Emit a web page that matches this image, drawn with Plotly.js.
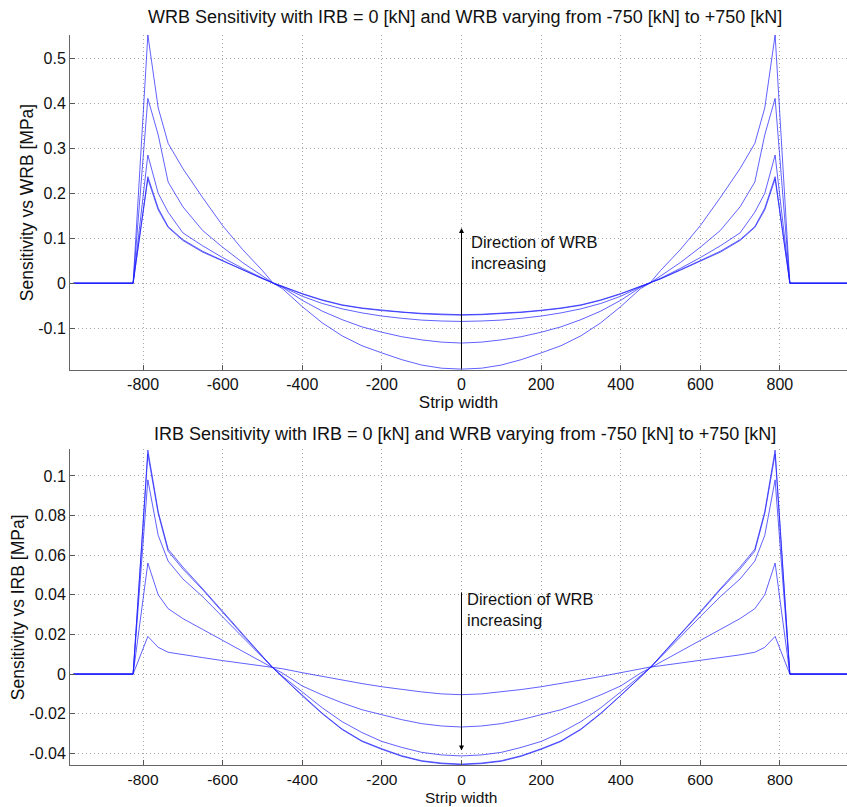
<!DOCTYPE html>
<html><head><meta charset="utf-8">
<script src="https://cdn.plot.ly/plotly-3.0.1.min.js"></script>
<style>html,body{margin:0;padding:0;background:#fff}</style>
</head><body><div id="chart" style="width:847px;height:807px"></div>
<script>
// Strip width positions (nodes)
var stripX = [-975,-825,-788,-762,-737,-700,-650,-600,-550,-500,-473,-450,-400,-350,-300,-250,-200,-150,-100,-50,0,50,100,150,200,250,300,350,400,450,473,500,550,600,650,700,737,762,788,825,975];

// Top: WRB sensitivity [MPa]
var wrbA = [0,0,0.552,0.39,0.311,0.255,0.19,0.128,0.075,0.028,0,-0.012,-0.052,-0.088,-0.117,-0.139,-0.155,-0.17,-0.182,-0.189,-0.191,-0.189,-0.182,-0.17,-0.155,-0.139,-0.117,-0.088,-0.052,-0.012,0,0.028,0.075,0.128,0.19,0.255,0.311,0.39,0.552,0,0];
var wrbB = [0,0,0.411,0.33,0.225,0.17,0.117,0.08,0.046,0.016,0,-0.009,-0.038,-0.062,-0.081,-0.097,-0.109,-0.119,-0.126,-0.131,-0.133,-0.131,-0.126,-0.119,-0.109,-0.097,-0.081,-0.062,-0.038,-0.009,0,0.016,0.046,0.08,0.117,0.17,0.225,0.33,0.411,0,0];
var wrbC = [0,0,0.285,0.2,0.158,0.112,0.083,0.057,0.033,0.011,0,-0.008,-0.029,-0.045,-0.057,-0.066,-0.073,-0.078,-0.082,-0.084,-0.085,-0.084,-0.082,-0.078,-0.073,-0.066,-0.057,-0.045,-0.029,-0.008,0,0.011,0.033,0.057,0.083,0.112,0.158,0.2,0.285,0,0];
var wrbD = [0,0,0.237,0.167,0.126,0.097,0.071,0.05,0.03,0.01,0,-0.007,-0.024,-0.038,-0.049,-0.056,-0.061,-0.065,-0.068,-0.07,-0.071,-0.07,-0.068,-0.065,-0.061,-0.056,-0.049,-0.038,-0.024,-0.007,0,0.01,0.03,0.05,0.071,0.097,0.126,0.167,0.237,0,0];
var wrbE = [0,0,0.232,0.163,0.124,0.095,0.069,0.049,0.029,0.0095,0,-0.0068,-0.023,-0.037,-0.048,-0.055,-0.06,-0.064,-0.067,-0.069,-0.07,-0.069,-0.067,-0.064,-0.06,-0.055,-0.048,-0.037,-0.023,-0.0068,0,0.0095,0.029,0.049,0.069,0.095,0.124,0.163,0.232,0,0];

// Bottom: IRB sensitivity [MPa]
var irbA = [0,0,0.113,0.082,0.063,0.054,0.043,0.0315,0.02,0.009,0.003,-0.0015,-0.011,-0.02,-0.028,-0.034,-0.038,-0.0415,-0.044,-0.0452,-0.0457,-0.0452,-0.044,-0.0415,-0.038,-0.034,-0.028,-0.02,-0.011,-0.0015,0.003,0.009,0.02,0.0315,0.043,0.054,0.063,0.082,0.113,0,0];
var irbB = [0,0,0.111,0.081,0.062,0.053,0.0425,0.031,0.0198,0.0089,0.003,-0.0014,-0.0108,-0.0197,-0.0277,-0.0337,-0.0377,-0.0412,-0.0437,-0.0449,-0.0454,-0.0449,-0.0437,-0.0412,-0.0377,-0.0337,-0.0277,-0.0197,-0.0108,-0.0014,0.003,0.0089,0.0198,0.031,0.0425,0.053,0.062,0.081,0.111,0,0];
var irbC = [0,0,0.098,0.07,0.057,0.048,0.039,0.029,0.019,0.0085,0.003,-0.001,-0.009,-0.017,-0.024,-0.0295,-0.034,-0.037,-0.0395,-0.0408,-0.0413,-0.0408,-0.0395,-0.037,-0.034,-0.0295,-0.024,-0.017,-0.009,-0.001,0.003,0.0085,0.019,0.029,0.039,0.048,0.057,0.07,0.098,0,0];
var irbD = [0,0,0.056,0.04,0.033,0.028,0.0225,0.017,0.0115,0.006,0.003,0.0005,-0.006,-0.0105,-0.0145,-0.018,-0.0205,-0.023,-0.025,-0.0262,-0.0267,-0.0262,-0.025,-0.023,-0.0205,-0.018,-0.0145,-0.0105,-0.006,0.0005,0.003,0.006,0.0115,0.017,0.0225,0.028,0.033,0.04,0.056,0,0];
var irbE = [0,0,0.019,0.0135,0.011,0.0097,0.0083,0.0068,0.0055,0.0042,0.0035,0.0027,0.0007,-0.0012,-0.003,-0.0048,-0.0064,-0.0078,-0.009,-0.01,-0.0104,-0.01,-0.009,-0.0078,-0.0064,-0.0048,-0.003,-0.0012,0.0007,0.0027,0.0035,0.0042,0.0055,0.0068,0.0083,0.0097,0.011,0.0135,0.019,0,0];

// Tick values / labels
var xTicks = [-800,-600,-400,-200,0,200,400,600,800];
var xTickText = ["-800","-600","-400","-200","0","200","400","600","800"];
var yTopTicks = [-0.1,0,0.1,0.2,0.3,0.4,0.5];
var yTopText = ["-0.1","0","0.1","0.2","0.3","0.4","0.5"];
var yBotTicks = [-0.04,-0.02,0,0.02,0.04,0.06,0.08,0.1];
var yBotText = ["-0.04","-0.02","0","0.02","0.04","0.06","0.08","0.1"];

var topTitle = "WRB Sensitivity with IRB = 0 [kN] and WRB varying from -750 [kN] to +750 [kN]";
var botTitle = "IRB Sensitivity with IRB = 0 [kN] and WRB varying from -750 [kN] to +750 [kN]";
var xTitle = "Strip width";

var FONT = "Liberation Sans, Arial, Helvetica, sans-serif";
var lineColor = "rgba(30,30,255,0.7)";

var traces = [];
[wrbA, wrbB, wrbC, wrbD, wrbE].forEach(function (s) {
  traces.push({x: stripX, y: s, type: "scatter", mode: "lines", xaxis: "x", yaxis: "y",
    line: {color: lineColor, width: 1}, hoverinfo: "skip", showlegend: false});
});
[irbA, irbB, irbC, irbD, irbE].forEach(function (s) {
  traces.push({x: stripX, y: s, type: "scatter", mode: "lines", xaxis: "x2", yaxis: "y2",
    line: {color: lineColor, width: 1}, hoverinfo: "skip", showlegend: false});
});

function xax(anchor, title, tsize) {
  return {anchor: anchor, domain: [0, 1], range: [-983.6, 968.6],
    tickvals: xTicks, ticktext: xTickText, ticks: "inside", ticklen: 5, tickcolor: "#555",
    showline: true, linecolor: "#666", linewidth: 1, mirror: false,
    showgrid: true, gridcolor: "#a8a8a8", griddash: "1px,3px", gridwidth: 1, zeroline: false,
    tickfont: {family: FONT, size: tsize, color: "#111"},
    title: {text: title, font: {family: FONT, size: 17, color: "#111"}, standoff: 0}};
}
function yax(anchor, range, tv, tt, title) {
  return {anchor: anchor, range: range, tickvals: tv, ticktext: tt,
    ticks: "inside", ticklen: 5, tickcolor: "#555",
    showline: true, linecolor: "#666", linewidth: 1,
    showgrid: true, gridcolor: "#a8a8a8", griddash: "1px,3px", gridwidth: 1, zeroline: false,
    tickfont: {family: FONT, size: 16, color: "#111"},
    title: {text: title, font: {family: FONT, size: 17.5, color: "#111"}, standoff: 0}};
}

var layout = {
  width: 847, height: 807,
  margin: {l: 70, r: 0, t: 0, b: 0},
  paper_bgcolor: "#fff", plot_bgcolor: "#fff",
  font: {family: FONT, size: 16, color: "#111"},
  xaxis: xax("y", xTitle, 16),
  yaxis: Object.assign(yax("x", [-0.193, 0.552], yTopTicks, yTopText, "Sensitivity vs WRB [MPa]"), {domain: [0.5415, 0.9566]}),
  xaxis2: xax("y2", "", 15.5),
  yaxis2: Object.assign(yax("x2", [-0.0461, 0.1134], yBotTicks, yBotText, "Sensitivity vs IRB [MPa]"), {domain: [0.0515, 0.4432]}),
  annotations: [
    {text: topTitle, xref: "paper", yref: "paper", x: 0.508, y: 1 - 17/807, xanchor: "center", yanchor: "middle",
     showarrow: false, font: {family: FONT, size: 18, color: "#111"}},
    {text: botTitle, xref: "paper", yref: "paper", x: 0.508, y: 1 - 434/807, xanchor: "center", yanchor: "middle",
     showarrow: false, font: {family: FONT, size: 18, color: "#111"}},
    {text: xTitle, xref: "x2", yref: "paper", x: 0, y: 0, xanchor: "center", yanchor: "bottom",
     showarrow: false, borderpad: 0, font: {family: FONT, size: 15.5, color: "#111"}},
    {text: "", xref: "x", yref: "y", x: 0, y: 0.123, axref: "x", ayref: "y", ax: 0, ay: -0.193,
     showarrow: true, arrowhead: 2, arrowsize: 1, arrowwidth: 1, arrowcolor: "#000"},
    {text: "Direction of WRB<br>increasing", xref: "x", yref: "y", x: 20, y: 0.068, xanchor: "left", yanchor: "middle",
     align: "left", showarrow: false, font: {family: FONT, size: 16.5, color: "#111"}},
    {text: "", xref: "x2", yref: "y2", x: 0, y: -0.0385, axref: "x2", ayref: "y2", ax: 0, ay: 0.042,
     showarrow: true, arrowhead: 2, arrowsize: 1, arrowwidth: 1, arrowcolor: "#000"},
    {text: "Direction of WRB<br>increasing", xref: "x2", yref: "y2", x: 10, y: 0.0326, xanchor: "left", yanchor: "middle",
     align: "left", showarrow: false, font: {family: FONT, size: 16.5, color: "#111"}}
  ]
};

Plotly.newPlot("chart", traces, layout, {staticPlot: true, displayModeBar: false});
</script>
</body></html>
